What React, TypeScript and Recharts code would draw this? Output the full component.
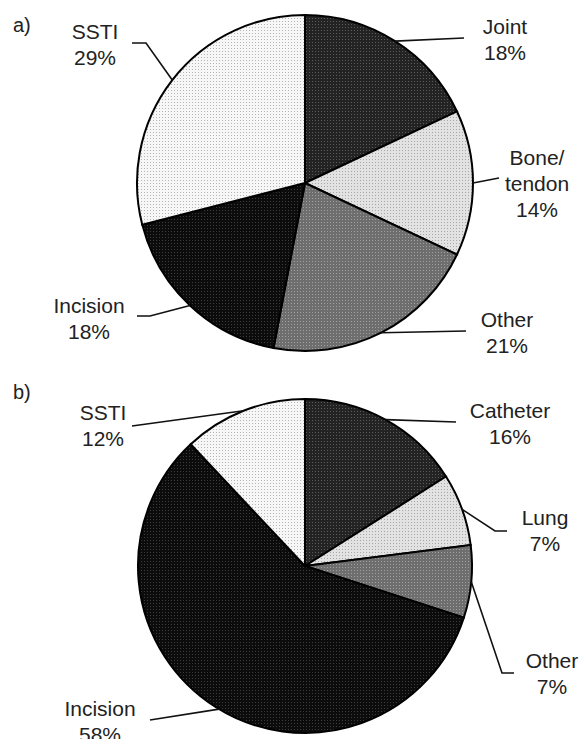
import React from 'react';
import { PieChart, Pie, Cell } from 'recharts';

// panel a) and b) data, clockwise from 12 o'clock
const categoriesA = ['Joint', 'Bone/tendon', 'Other', 'Incision', 'SSTI'];
const valuesA = [18, 14, 21, 18, 29];

const categoriesB = ['Catheter', 'Lung', 'Other', 'Incision', 'SSTI'];
const valuesB = [16, 7, 7, 58, 12];

// texture per category
const patternFor: Record<string, string> = {
  Joint: 'url(#patDark)',
  Catheter: 'url(#patDark)',
  'Bone/tendon': 'url(#patLight)',
  Lung: 'url(#patLight)',
  Other: 'url(#patMid)',
  Incision: 'url(#patBlack)',
  SSTI: 'url(#patWhite)',
};

// leader line routing and text position for each label (page coordinates)
type LabelLayout = { path: number[][]; text: number[]; anchorAngle?: number };

const layoutA: LabelLayout[] = [
  { path: [[464, 38]], text: [505, 26] },
  { path: [[499, 178]], text: [537, 157] },
  { path: [[466, 331]], text: [507, 319] },
  { path: [[150, 316], [137, 316]], text: [89, 305] },
  { path: [[146, 43], [132, 43]], text: [95, 31] },
];

const layoutB: LabelLayout[] = [
  { path: [[456, 422]], text: [510, 410] },
  { path: [[495, 531], [507, 531]], text: [545, 517] },
  { path: [[502, 673], [514, 673]], text: [552, 660] },
  { path: [[150, 720]], text: [100, 708], anchorAngle: -121 },
  { path: [[132, 426]], text: [103, 412] },
];

const RAD = Math.PI / 180;
const FONT = '"Liberation Sans", Arial, sans-serif';

const toData = (names: string[], values: number[]) =>
  names.map((name, i) => ({ name, value: values[i] }));

const dataA = toData(categoriesA, valuesA);
const dataB = toData(categoriesB, valuesB);

const makeLabel = (layout: LabelLayout[]) => (props: any) => {
  const { cx, cy, outerRadius, midAngle, index, name, value } = props;
  const l = layout[index];
  const angle = l.anchorAngle !== undefined ? l.anchorAngle : midAngle;
  const sx = cx + outerRadius * Math.cos(-angle * RAD);
  const sy = cy + outerRadius * Math.sin(-angle * RAD);
  const pts = [[sx, sy], ...l.path].map(p => p.join(',')).join(' ');

  const nameLines = name.includes('/')
    ? [name.slice(0, name.indexOf('/') + 1), name.slice(name.indexOf('/') + 1)]
    : [name];
  const lines = [...nameLines, `${value}%`];

  return (
    <g>
      <polyline points={pts} fill="none" stroke="#111" strokeWidth={1.6} />
      {lines.map((t, i) => (
        <text
          key={i}
          x={l.text[0]}
          y={l.text[1] + i * 26}
          textAnchor="middle"
          dominantBaseline="central"
          fontFamily={FONT}
          fontSize={21}
          fill="#222"
        >
          {t}
        </text>
      ))}
    </g>
  );
};

const Patterns = () => (
  <svg width={0} height={0} style={{ position: 'absolute' }}>
    <defs>
      <pattern id="patDark" width="3" height="3" patternUnits="userSpaceOnUse">
        <rect width="3" height="3" fill="#232323" />
        <rect width="1" height="1" fill="#5a5a5a" />
      </pattern>
      <pattern id="patLight" width="3" height="3" patternUnits="userSpaceOnUse">
        <rect width="3" height="3" fill="#e2e2e2" />
        <rect width="1" height="1" fill="#a8a8a8" />
      </pattern>
      <pattern id="patMid" width="3" height="3" patternUnits="userSpaceOnUse">
        <rect width="3" height="3" fill="#6e6e6e" />
        <rect width="1" height="1" fill="#a0a0a0" />
      </pattern>
      <pattern id="patBlack" width="3" height="3" patternUnits="userSpaceOnUse">
        <rect width="3" height="3" fill="#0c0c0c" />
        <rect width="1" height="1" fill="#3c3c3c" />
      </pattern>
      <pattern id="patWhite" width="3" height="3" patternUnits="userSpaceOnUse">
        <rect width="3" height="3" fill="#f7f7f7" />
        <rect width="1" height="1" fill="#b4b4b4" />
      </pattern>
    </defs>
  </svg>
);

const panelLabel: React.CSSProperties = {
  position: 'absolute',
  left: 13,
  fontFamily: FONT,
  fontSize: 20,
  color: '#222',
  lineHeight: '20px',
};

export default function App() {
  return (
    <div style={{ position: 'relative', width: 584, height: 739, background: '#fff', overflow: 'hidden' }}>
      <style>{'body{margin:0}'}</style>
      <Patterns />
      <div style={{ ...panelLabel, top: 15 }}>a)</div>
      <div style={{ ...panelLabel, top: 382 }}>b)</div>
      <PieChart width={584} height={739} margin={{ top: 0, right: 0, bottom: 0, left: 0 }}>
        <Pie
          data={dataA}
          dataKey="value"
          nameKey="name"
          cx={305}
          cy={183}
          outerRadius={168}
          startAngle={90}
          endAngle={-270}
          stroke="#000"
          strokeWidth={2}
          label={makeLabel(layoutA)}
          labelLine={false}
          isAnimationActive={false}
        >
          {dataA.map((d, i) => (
            <Cell key={`a-${i}`} fill={patternFor[d.name]} />
          ))}
        </Pie>
        <Pie
          data={dataB}
          dataKey="value"
          nameKey="name"
          cx={305}
          cy={566}
          outerRadius={167}
          startAngle={90}
          endAngle={-270}
          stroke="#000"
          strokeWidth={2}
          label={makeLabel(layoutB)}
          labelLine={false}
          isAnimationActive={false}
        >
          {dataB.map((d, i) => (
            <Cell key={`b-${i}`} fill={patternFor[d.name]} />
          ))}
        </Pie>
      </PieChart>
    </div>
  );
}
